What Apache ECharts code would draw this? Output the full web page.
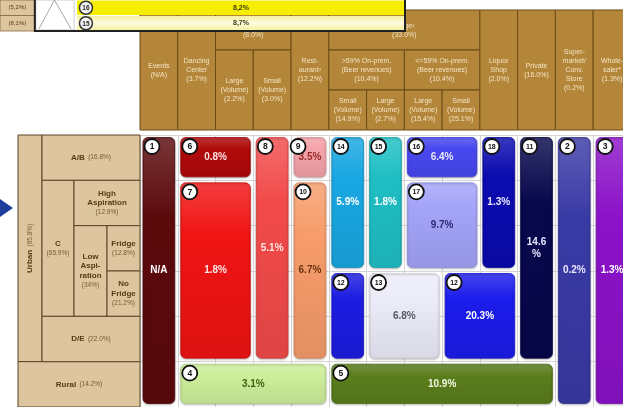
<!DOCTYPE html>
<html>
<head>
<meta charset="utf-8">
<script src="https://cdn.jsdelivr.net/npm/echarts@6/dist/echarts.min.js"></script>
<style>
html, body { margin: 0; padding: 0; background: #ffffff; }
#c { width: 623px; height: 407px; }
</style>
</head>
<body>
<div id="c"></div>
<script>
// ---- Outlet channels (column headers) ----
const headerTexts = [
  'Events\n(N/A)',
  'Dancing\nCenter\n(3.7%)',
  'Bar\n(8.0%)',
  'Large\n(Volume)\n(2.2%)',
  'Small\n(Volume)\n(3.0%)',
  'Rest-\naurant²\n(12.2%)',
  'Large¹\n(33.0%)',
  '>59% On-prem.\n(Beer revenues)\n(10.4%)',
  '<=59% On-prem.\n(Beer revenues)\n(10.4%)',
  'Small\n(Volume)\n(14.9%)',
  'Large\n(Volume)\n(2.7%)',
  'Large\n(Volume)\n(15.4%)',
  'Small\n(Volume)\n(25.1%)',
  'Liquor\nShop\n(2.0%)',
  'Private\n(16.0%)',
  'Super-\nmarket/\nConv.\nStore\n(0.2%)',
  'Whole-\nsaler*\n(1.3%)'
];
// column span [from, to] and header level span [from, to]
const headerCols = [[0,1],[1,2],[2,4],[2,3],[3,4],[4,5],[5,9],[5,7],[7,9],[5,6],[6,7],[7,8],[8,9],[9,10],[10,11],[11,12],[12,13]];
const headerLevels = [[0,3],[0,3],[0,1],[1,3],[1,3],[0,3],[0,1],[1,2],[1,2],[2,3],[2,3],[2,3],[2,3],[0,3],[0,3],[0,3],[0,3]];

// ---- Consumer segments (row headers) ----
const segNames = ['Urban', 'Rural', 'A/B', 'C', 'High\nAspiration', 'Low\nAspi-\nration', 'Fridge', 'No\nFridge', 'D/E'];
const segShares = ['(85.8%)', '(14.2%)', '(16.8%)', '(65.9%)', '(12.9%)', '(34%)', '(12.8%)', '(21.2%)', '(22.0%)'];
const segTiers = [[0,1],[0,4],[1,4],[1,2],[2,4],[2,3],[3,4],[3,4],[1,4]];
const segRows = [[0,5],[5,6],[0,1],[1,4],[1,2],[2,4],[2,3],[3,4],[4,5]];

// ---- Occasion blocks ----
const blockIds = [1, 6, 7, 8, 9, 10, 14, 15, 16, 17, 18, 11, 2, 3, 12, 13, 12, 4, 5];
const blockLabels = ['N/A', '0.8%', '1.8%', '5.1%', '3.5%', '6.7%', '5.9%', '1.8%', '6.4%', '9.7%', '1.3%', '14.6\n%', '0.2%', '1.3%', '', '6.8%', '20.3%', '3.1%', '10.9%'];
const blockCols = [[0,1],[1,3],[1,3],[3,4],[4,5],[4,5],[5,6],[6,7],[7,9],[7,9],[9,10],[10,11],[11,12],[12,13],[5,6],[6,8],[8,10],[1,5],[5,11]];
const blockRows = [[0,6],[0,1],[1,5],[0,5],[0,1],[1,5],[0,3],[0,3],[0,1],[1,3],[0,3],[0,5],[0,6],[0,6],[3,5],[3,5],[3,5],[5,6],[5,6]];

// ---- Key strip ----
const keyShares = ['(5,2%)', '(8,1%)'];
const keyBadges = ['16', '15'];
const keyValues = ['8,2%', '8,7%'];

// ---- Styling ----
const FONT = '"Liberation Sans", Arial, sans-serif';
const blockFills = ['#5c0a0c', '#b00a0a', '#f01414', '#f24a4a', '#f5a3aa', '#f79c6a', '#19a7e2', '#1fbfc4', '#4848f0', '#a3a3f9', '#0b0bb0', '#07074c', '#3a3aa6', '#8b12c8', '#1c1ce2', '#ececf9', '#1c1cec', '#cdee9a', '#5a7d1c'];
const blockInk = ['#ffffff', '#ffe0e0', '#ffe6e6', '#ffe6e6', '#9b2a2a', '#6a3412', '#ffffff', '#ffffff', '#e8e8ff', '#2b2b72', '#e8e8ff', '#e8e8ff', '#e8e8ff', '#ffffff', '#ffffff', '#555566', '#ffffff', '#3e5e12', '#f0f8e0'];
// badge nudge (px) for blocks whose marker sits on the left edge
const badgeShiftX = [0, 0, 0, 0, -5, 0, 0, 0, 0, 0, 0, 0, 0, 0, 0, 0, 0, 0, 0];
const tierWidths = [24, 32, 33, 33];
const tierEdges = tierWidths.reduce((acc, w) => { acc.push(acc[acc.length - 1] + w); return acc; }, [0]);

function rgb(hex) {
  const n = parseInt(hex.slice(1), 16);
  return [n >> 16, (n >> 8) & 255, n & 255];
}
function mix(hex, target, k) {
  const c = rgb(hex);
  return 'rgb(' + c.map(v => Math.round(v + (target - v) * k)).join(',') + ')';
}

function cellRect(api) {
  const a = api.coord([api.value(0), api.value(2)]);
  const b = api.coord([api.value(1), api.value(3)]);
  return { x: a[0], y: a[1], w: b[0] - a[0], h: b[1] - a[1] };
}

function renderBlock(params, api) {
  const i = params.dataIndex;
  const c = cellRect(api);
  const x = c.x + 3, y = c.y + 2.5, w = c.w - 6, h = c.h - 6;
  const fill = blockFills[i];
  const kids = [{
    type: 'rect',
    shape: { x: x, y: y, width: w, height: h, r: 5 },
    style: {
      fill: new echarts.graphic.LinearGradient(0, 0, 0, 1, [
        { offset: 0, color: mix(fill, 255, 0.18) },
        { offset: 0.3, color: fill },
        { offset: 1, color: mix(fill, 0, 0.08) }
      ]),
      stroke: mix(fill, 0, 0.12),
      lineWidth: 0.8,
      shadowBlur: 2,
      shadowOffsetY: 1,
      shadowColor: 'rgba(0,0,0,0.25)'
    }
  }];
  if (blockLabels[i]) {
    kids.push({
      type: 'text', x: x + w / 2, y: y + h / 2,
      style: { text: blockLabels[i], fill: blockInk[i], font: 'bold 10px ' + FONT, align: 'center', verticalAlign: 'middle', lineHeight: 12 }
    });
  }
  const id = String(blockIds[i]);
  const bx = x + 9 + badgeShiftX[i];
  kids.push({
    type: 'circle', shape: { cx: bx, cy: y + 9, r: 7.5 },
    style: { fill: '#ffffff', stroke: '#111111', lineWidth: 1.8 }
  });
  kids.push({
    type: 'text', x: bx, y: y + 9.5,
    style: { text: id, fill: '#111111', font: 'bold ' + (id.length > 1 ? 7 : 8.5) + 'px ' + FONT, align: 'center', verticalAlign: 'middle' }
  });
  return { type: 'group', children: kids };
}

function renderHeader(params, api) {
  const i = params.dataIndex;
  const c = cellRect(api);
  return {
    type: 'group',
    children: [
      { type: 'rect', shape: { x: c.x, y: c.y, width: c.w, height: c.h }, style: { fill: '#b3863a', stroke: '#6d4b16', lineWidth: 1 } },
      {
        type: 'text', x: c.x + c.w / 2, y: c.y + c.h / 2 + 0.5,
        style: { text: headerTexts[i], fill: '#f4e4c4', font: '7px ' + FONT, align: 'center', verticalAlign: 'middle', lineHeight: 9 }
      }
    ]
  };
}

function renderSegment(params, api) {
  const i = params.dataIndex;
  const c = cellRect(api);
  const rich = {
    b: { fontFamily: FONT, fontWeight: 'bold', fontSize: 8, fill: '#5a3a12', lineHeight: 9.5 },
    s: { fontFamily: FONT, fontSize: 6.5, fill: '#7a5a32', lineHeight: 9.5 }
  };
  const t0 = segTiers[i][0], t1 = segTiers[i][1];
  const r0 = segRows[i][0], r1 = segRows[i][1];
  let text, rotation = 0;
  if (t1 - t0 === 1 && r1 - r0 > 3) {
    text = '{b|' + segNames[i] + '} {s|' + segShares[i] + '}';
    rotation = Math.PI / 2;
  } else if (t1 - t0 >= 3) {
    text = '{b|' + segNames[i] + '} {s|' + segShares[i] + '}';
  } else {
    text = segNames[i].split('\n').map(l => '{b|' + l + '}').join('\n') + '\n{s|' + segShares[i] + '}';
  }
  return {
    type: 'group',
    children: [
      { type: 'rect', shape: { x: c.x, y: c.y, width: c.w, height: c.h }, style: { fill: '#dcc59f', stroke: '#5e4524', lineWidth: 1 } },
      {
        type: 'text', x: c.x + c.w / 2, y: c.y + c.h / 2, rotation: rotation,
        style: { text: text, rich: rich, align: 'center', verticalAlign: 'middle' }
      }
    ]
  };
}

function renderKey(params, api) {
  const r = params.dataIndex;
  const a = api.coord([0, r]);
  const b = api.coord([1, r + 1]);
  const top = api.coord([0, 0])[1], bottom = api.coord([0, 2])[1];
  const W = b[0] - a[0];
  const tanR = a[0] + W * 0.086;
  const boxR = a[0] + W * 0.183;
  const barL = a[0] + W * 0.19;
  const mid = (a[1] + b[1]) / 2;
  const kids = [
    { type: 'rect', shape: { x: a[0], y: a[1], width: tanR - a[0], height: b[1] - a[1] }, style: { fill: '#dcc59f', stroke: '#8a6a3a', lineWidth: 0.8 } },
    { type: 'text', x: (a[0] + tanR) / 2, y: mid, style: { text: keyShares[r], font: '6px ' + FONT, fill: '#5a3a12', align: 'center', verticalAlign: 'middle' } },
    {
      type: 'rect', shape: { x: barL, y: a[1] + 0.5, width: b[0] - barL - 1, height: b[1] - a[1] - 1 },
      style: {
        fill: r === 0 ? '#f6ee00' : new echarts.graphic.LinearGradient(0, 0, 0, 1, [
          { offset: 0, color: '#f4f0a0' }, { offset: 0.5, color: '#fdfce0' }, { offset: 1, color: '#f4f0a0' }
        ])
      }
    },
    { type: 'circle', shape: { cx: barL + 9, cy: mid, r: 6.5 }, style: { fill: '#f4f4f4', stroke: '#333333', lineWidth: 1.5 } },
    { type: 'text', x: barL + 9, y: mid + 0.5, style: { text: keyBadges[r], font: 'bold 6.5px ' + FONT, fill: '#222222', align: 'center', verticalAlign: 'middle' } },
    { type: 'text', x: (barL + b[0]) / 2, y: mid, style: { text: keyValues[r], font: 'bold 7px ' + FONT, fill: '#3a3a10', align: 'center', verticalAlign: 'middle' } }
  ];
  if (r === 0) {
    kids.push({ type: 'rect', shape: { x: tanR + 1, y: top, width: boxR - tanR - 1, height: bottom - top - 1 }, style: { fill: '#ffffff', stroke: '#bbbbbb', lineWidth: 0.8 } });
    kids.push({
      type: 'polyline',
      shape: { points: [[tanR + 4, bottom - 2], [(tanR + boxR) / 2, top], [boxR - 3, bottom - 2]] },
      style: { stroke: '#aaaaaa', lineWidth: 1, fill: 'none' }
    });
  } else {
    kids.push({
      type: 'polyline',
      shape: { points: [[tanR, top], [tanR, bottom], [b[0], bottom], [b[0], top]] },
      style: { stroke: '#222222', lineWidth: 2, fill: 'none' }
    });
  }
  return { type: 'group', children: kids };
}

const hiddenAxis = { axisLine: { show: false }, axisTick: { show: false }, axisLabel: { show: false }, splitLine: { show: false } };

const chart = echarts.init(document.getElementById('c'));
chart.setOption({
  animation: false,
  backgroundColor: '#ffffff',
  grid: [
    { left: 140, right: 0, top: 135, bottom: 0 },         // occasion blocks
    { left: 140, right: 0, top: 10, height: 120 },        // channel headers
    { left: 18, width: tierEdges[tierEdges.length - 1], top: 135, bottom: 0 }, // segment headers
    { left: 0, top: -4, width: 405, height: 35 }          // key strip
  ],
  xAxis: [
    Object.assign({ gridIndex: 0, type: 'value', min: 0, max: 12.79, interval: 1 }, hiddenAxis, { splitLine: { show: true, lineStyle: { color: '#d4d4d4', width: 1 } } }),
    Object.assign({ gridIndex: 1, type: 'value', min: 0, max: 12.79 }, hiddenAxis),
    Object.assign({ gridIndex: 2, type: 'value', min: 0, max: tierEdges[tierEdges.length - 1] }, hiddenAxis),
    Object.assign({ gridIndex: 3, type: 'value', min: 0, max: 1 }, hiddenAxis)
  ],
  yAxis: [
    Object.assign({ gridIndex: 0, type: 'value', min: 0, max: 6, interval: 1, inverse: true }, hiddenAxis, { splitLine: { show: true, lineStyle: { color: '#d4d4d4', width: 1 } } }),
    Object.assign({ gridIndex: 1, type: 'value', min: 0, max: 3, inverse: true }, hiddenAxis),
    Object.assign({ gridIndex: 2, type: 'value', min: 0, max: 6, inverse: true }, hiddenAxis),
    Object.assign({ gridIndex: 3, type: 'value', min: 0, max: 2, inverse: true }, hiddenAxis)
  ],
  series: [
    {
      type: 'custom', xAxisIndex: 0, yAxisIndex: 0, z: 3,
      renderItem: renderBlock,
      encode: { x: [0, 1], y: [2, 3] },
      data: blockIds.map((_, i) => [blockCols[i][0], blockCols[i][1], blockRows[i][0], blockRows[i][1]])
    },
    {
      type: 'custom', xAxisIndex: 1, yAxisIndex: 1, z: 2,
      renderItem: renderHeader,
      encode: { x: [0, 1], y: [2, 3] },
      data: headerTexts.map((_, i) => [headerCols[i][0], headerCols[i][1], headerLevels[i][0], headerLevels[i][1]])
    },
    {
      type: 'custom', xAxisIndex: 2, yAxisIndex: 2, z: 2,
      renderItem: renderSegment,
      encode: { x: [0, 1], y: [2, 3] },
      data: segNames.map((_, i) => [tierEdges[segTiers[i][0]], tierEdges[segTiers[i][1]], segRows[i][0], segRows[i][1]])
    },
    {
      type: 'custom', xAxisIndex: 3, yAxisIndex: 3, z: 10,
      renderItem: renderKey,
      encode: { y: 0 },
      data: keyValues.map((_, i) => [i])
    }
  ],
  graphic: [
    { type: 'polygon', left: 0, top: 199, shape: { points: [[0, 0], [13, 9], [0, 18]] }, style: { fill: '#1f3d9c' } }
  ]
});
</script>
</body>
</html>
